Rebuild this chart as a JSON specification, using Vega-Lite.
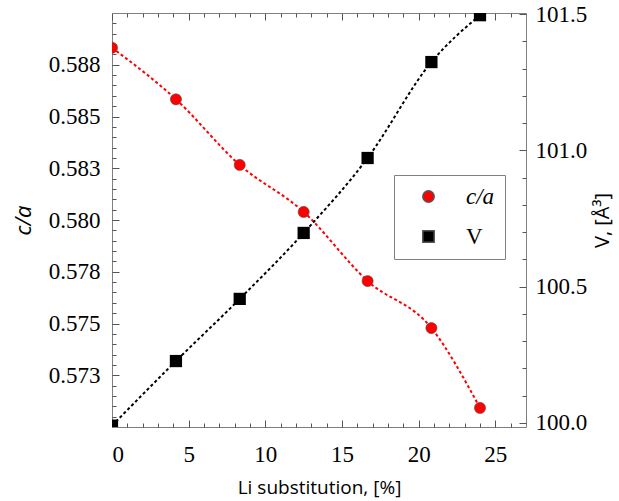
{
  "$schema": "https://vega.github.io/schema/vega-lite/v6.json",
  "width": 414,
  "height": 414,
  "autosize": "none",
  "padding": {"left": 112, "top": 13, "right": 93, "bottom": 74},
  "background": "white",
  "config": {
    "view": {"stroke": "#808080", "strokeWidth": 1}
  },
  "data": {
    "values": [
      {"x": 0, "ca": 0.58832, "V": 99.99},
      {"x": 4.17, "ca": 0.58583, "V": 100.227},
      {"x": 8.33, "ca": 0.58266, "V": 100.455},
      {"x": 12.5, "ca": 0.58039, "V": 100.697},
      {"x": 16.67, "ca": 0.57705, "V": 100.972},
      {"x": 20.83, "ca": 0.57478, "V": 101.324},
      {"x": 24, "ca": 0.57092, "V": 101.496}
    ]
  },
  "layer": [
    {
      "mark": {"type": "line", "color": "#ff0000", "strokeWidth": 2, "strokeDash": [3, 2.5], "interpolate": "monotone", "clip": true},
      "encoding": {
        "x": {"field": "x", "type": "quantitative", "scale": {"domain": [0, 27], "nice": false, "zero": false},
          "axis": {"orient": "bottom", "values": [0, 5, 10, 15, 20, 25], "domain": false, "grid": false, "ticks": true, "tickColor": "#555555", "tickWidth": 1, "offset": -7, "tickSize": 7, "labelPadding": 16, "labelFont": "Liberation Serif", "labelFontSize": 23, "labelColor": "black", "title": "Li substitution, [%]", "titleFont": "Open Sans", "titleFontWeight": "normal", "titleColor": "black", "titleFontSize": 19, "titlePadding": 12}},
        "y": {"field": "ca", "type": "quantitative", "scale": {"domain": [0.57, 0.59], "nice": false, "zero": false},
          "axis": {"orient": "left", "values": [0.5725, 0.575, 0.5775, 0.58, 0.5825, 0.585, 0.5875], "labelExpr": "format(datum.value + 0.00001, '.3f')", "domain": false, "grid": false, "ticks": true, "tickColor": "#555555", "tickWidth": 1, "offset": -7, "tickSize": 7, "labelPadding": 12, "labelFont": "Liberation Serif", "labelFontSize": 23, "labelColor": "black", "title": "c/a", "titleFont": "Open Sans", "titleFontWeight": "normal", "titleColor": "black", "titleFontStyle": "italic", "titleFontSize": 22, "titlePadding": 13}}
      }
    },
    {
      "mark": {"type": "line", "color": "#000000", "strokeWidth": 2, "strokeDash": [3, 2.5], "interpolate": "monotone", "clip": true},
      "encoding": {
        "x": {"field": "x", "type": "quantitative", "scale": {"domain": [0, 27], "nice": false, "zero": false}, "axis": null},
        "y": {"field": "V", "type": "quantitative", "scale": {"domain": [99.985, 101.504], "nice": false, "zero": false},
          "axis": {"orient": "right", "values": [100, 100.5, 101, 101.5], "format": ".1f", "domain": false, "grid": false, "ticks": true, "tickColor": "#555555", "tickWidth": 1, "offset": -7, "tickSize": 7, "labelPadding": 9, "labelFont": "Liberation Serif", "labelFontSize": 23, "labelColor": "black", "title": "V, [Å³]", "titleFont": "Open Sans", "titleFontWeight": "normal", "titleColor": "black", "titleFontSize": 20, "titleAngle": -90, "titlePadding": 26}}
      }
    },
    {
      "mark": {"type": "point", "filled": true, "size": 125, "opacity": 1, "stroke": "#555555", "strokeWidth": 0.6, "clip": true},
      "encoding": {
        "x": {"field": "x", "type": "quantitative", "scale": {"domain": [0, 27], "nice": false, "zero": false}, "axis": null},
        "y": {"field": "ca", "type": "quantitative", "scale": {"domain": [0.57, 0.59], "nice": false, "zero": false}, "axis": null},
        "color": {"datum": "c/a", "type": "nominal", "scale": {"domain": ["c/a", "V"], "range": ["#ff0000", "#000000"]},
          "legend": {"title": null, "orient": "none", "legendX": 282, "legendY": 162, "strokeColor": "#808080", "fillColor": "white", "padding": 10, "symbolOffset": 13, "labelOffset": 26, "rowPadding": 16, "symbolSize": 130, "labelFont": "Liberation Serif", "labelFontSize": 23, "labelColor": "black",
            "labelExpr": "datum.value === 'c/a' ? 'c/a\u00a0\u00a0\u00a0\u00a0\u00a0\u00a0\u00a0\u00a0\u00a0\u00a0\u00a0\u00a0\u00a0' : datum.value",
            "labelFontStyle": {"expr": "datum.value === 'c/a' ? 'italic' : 'normal'"}}},
        "shape": {"datum": "c/a", "type": "nominal", "scale": {"domain": ["c/a", "V"], "range": ["circle", "square"]},
          "legend": {"title": null, "orient": "none", "legendX": 282, "legendY": 162, "strokeColor": "#808080", "fillColor": "white", "padding": 10, "symbolOffset": 13, "labelOffset": 26, "rowPadding": 16, "symbolSize": 130, "labelFont": "Liberation Serif", "labelFontSize": 23, "labelColor": "black",
            "labelExpr": "datum.value === 'c/a' ? 'c/a\u00a0\u00a0\u00a0\u00a0\u00a0\u00a0\u00a0\u00a0\u00a0\u00a0\u00a0\u00a0\u00a0' : datum.value",
            "labelFontStyle": {"expr": "datum.value === 'c/a' ? 'italic' : 'normal'"}}}
      }
    },
    {
      "mark": {"type": "point", "filled": true, "size": 150, "opacity": 1, "shape": "square", "clip": true},
      "encoding": {
        "x": {"field": "x", "type": "quantitative", "scale": {"domain": [0, 27], "nice": false, "zero": false}, "axis": null},
        "y": {"field": "V", "type": "quantitative", "scale": {"domain": [99.985, 101.504], "nice": false, "zero": false}, "axis": null},
        "color": {"datum": "V", "type": "nominal"},
        "shape": {"datum": "V", "type": "nominal"}
      }
    },
    {
      "mark": {"type": "point", "opacity": 0},
      "encoding": {
        "x": {"field": "x", "type": "quantitative", "scale": {"domain": [0, 27], "nice": false, "zero": false},
          "axis": {"orient": "bottom", "values": [1,2,3,4,6,7,8,9,11,12,13,14,16,17,18,19,21,22,23,24,26], "domain": false, "grid": false, "ticks": true, "tickColor": "#555555", "tickWidth": 1, "offset": -4, "tickSize": 4, "labels": false, "title": null}},
        "y": {"field": "ca", "type": "quantitative", "scale": {"domain": [0.57, 0.59], "nice": false, "zero": false},
          "axis": {"orient": "left", "values": [0.5705,0.571,0.5715,0.572,0.573,0.5735,0.574,0.5745,0.5755,0.576,0.5765,0.577,0.578,0.5785,0.579,0.5795,0.5805,0.581,0.5815,0.582,0.583,0.5835,0.584,0.5845,0.5855,0.586,0.5865,0.587,0.588,0.5885,0.589,0.5895], "domain": false, "grid": false, "ticks": true, "tickColor": "#555555", "tickWidth": 1, "offset": -4, "tickSize": 4, "labels": false, "title": null}}
      }
    },
    {
      "mark": {"type": "point", "opacity": 0},
      "encoding": {
        "x": {"field": "x", "type": "quantitative", "scale": {"domain": [0, 27], "nice": false, "zero": false},
          "axis": {"orient": "top", "values": [0, 5, 10, 15, 20, 25], "domain": false, "grid": false, "ticks": true, "tickColor": "#555555", "tickWidth": 1, "offset": -7, "tickSize": 7, "labels": false, "title": null}},
        "y": {"field": "V", "type": "quantitative", "scale": {"domain": [99.985, 101.504], "nice": false, "zero": false},
          "axis": {"orient": "right", "values": [100.1,100.2,100.3,100.4,100.6,100.7,100.8,100.9,101.1,101.2,101.3,101.4], "domain": false, "grid": false, "ticks": true, "tickColor": "#555555", "tickWidth": 1, "offset": -4, "tickSize": 4, "labels": false, "title": null}}
      }
    },
    {
      "mark": {"type": "point", "opacity": 0},
      "encoding": {
        "x": {"field": "x", "type": "quantitative", "scale": {"domain": [0, 27], "nice": false, "zero": false},
          "axis": {"orient": "top", "values": [1,2,3,4,6,7,8,9,11,12,13,14,16,17,18,19,21,22,23,24,26], "domain": false, "grid": false, "ticks": true, "tickColor": "#555555", "tickWidth": 1, "offset": -4, "tickSize": 4, "labels": false, "title": null}},
        "y": {"field": "V", "type": "quantitative", "scale": {"domain": [99.985, 101.504], "nice": false, "zero": false}, "axis": null}
      }
    }
  ],
  "resolve": {
    "scale": {"x": "independent", "y": "independent"},
    "axis": {"x": "independent", "y": "independent"}
  }
}
